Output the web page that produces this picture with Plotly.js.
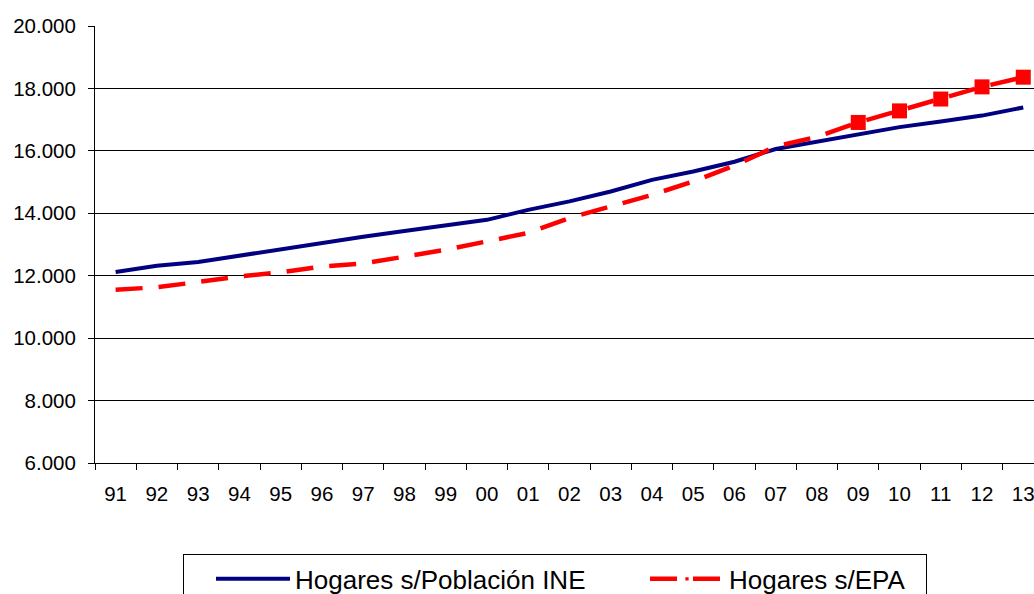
<!DOCTYPE html>
<html>
<head>
<meta charset="utf-8">
<script src="https://cdn.plot.ly/plotly-3.0.1.min.js"></script>
<style>html,body{margin:0;padding:0;overflow:hidden;background:#fff}</style>
</head>
<body>
<div id="chart" style="width:1034px;height:594px"></div>
<script>
const years = ['91','92','93','94','95','96','97','98','99','00','01','02','03','04','05','06','07','08','09','10','11','12','13'];
const hogaresINE = [12120,12320,12440,12650,12850,13050,13250,13430,13600,13790,14110,14380,14700,15070,15340,15650,16060,16300,16510,16760,16940,17130,17390];
const hogaresEPA = [11550,11630,11800,11980,12110,12290,12390,12600,12830,13100,13370,13850,14220,14590,15020,15530,16140,16450,16910,17280,17660,18050,18360];
const projectionStart = '09';

const startIdx = years.indexOf(projectionStart);
const epaMarkerSizes = years.map((y, i) => i >= startIdx ? 15 : 0);

const font = "Arial, 'Liberation Sans', sans-serif";

const traces = [
  {
    x: years, y: hogaresINE, type: 'scatter', mode: 'lines',
    name: 'Hogares s/Población INE',
    legendwidth: 318,
    line: {color: '#000080', width: 4}
  },
  {
    x: years, y: hogaresEPA, type: 'scatter', mode: 'lines+markers',
    name: 'Hogares s/EPA',
    legendwidth: 192,
    line: {color: '#FF0000', width: 4.5, dash: '27px,16px'},
    marker: {symbol: 'square', color: '#FF0000', opacity: 1, size: epaMarkerSizes, line: {width: 0}}
  }
];

const layout = {
  width: 1034, height: 594,
  margin: {l: 95, r: 0, t: 26, b: 130.5, autoexpand: false},
  paper_bgcolor: '#fff', plot_bgcolor: '#fff',
  font: {family: font, color: '#000', size: 20.5},
  showlegend: true,
  xaxis: {
    type: 'category',
    range: [-0.5, 22.26],
    tickson: 'boundaries',
    ticks: 'outside', ticklen: 6, tickcolor: '#000', tickwidth: 1,
    showline: true, linecolor: '#000', linewidth: 1,
    showgrid: false, zeroline: false,
    ticklabelstandoff: 12,
    automargin: false,
    tickfont: {family: font, size: 20.5, color: '#000'}
  },
  yaxis: {
    range: [6000, 20000],
    tickvals: [6000, 8000, 10000, 12000, 14000, 16000, 18000, 20000],
    ticktext: ['6.000','8.000','10.000','12.000','14.000','16.000','18.000','20.000'],
    ticks: 'outside', ticklen: 6, tickcolor: '#000', tickwidth: 1,
    showline: true, linecolor: '#000', linewidth: 1,
    showgrid: true, gridcolor: '#000', gridwidth: 1,
    zeroline: false,
    ticklabelstandoff: 8,
    automargin: false,
    tickfont: {family: font, size: 20.5, color: '#000'}
  },
  legend: {
    orientation: 'h',
    x: (183 - 95) / 939, xanchor: 'left',
    y: (463.5 - 555) / 437.5, yanchor: 'top',
    bordercolor: '#000', borderwidth: 1, bgcolor: '#fff',
    font: {family: font, size: 26, color: '#000'},
    itemwidth: 74,
    indentation: 27,
    traceorder: 'normal'
  }
};

Plotly.newPlot('chart', traces, layout, {displayModeBar: false, staticPlot: true});
</script>
</body>
</html>
